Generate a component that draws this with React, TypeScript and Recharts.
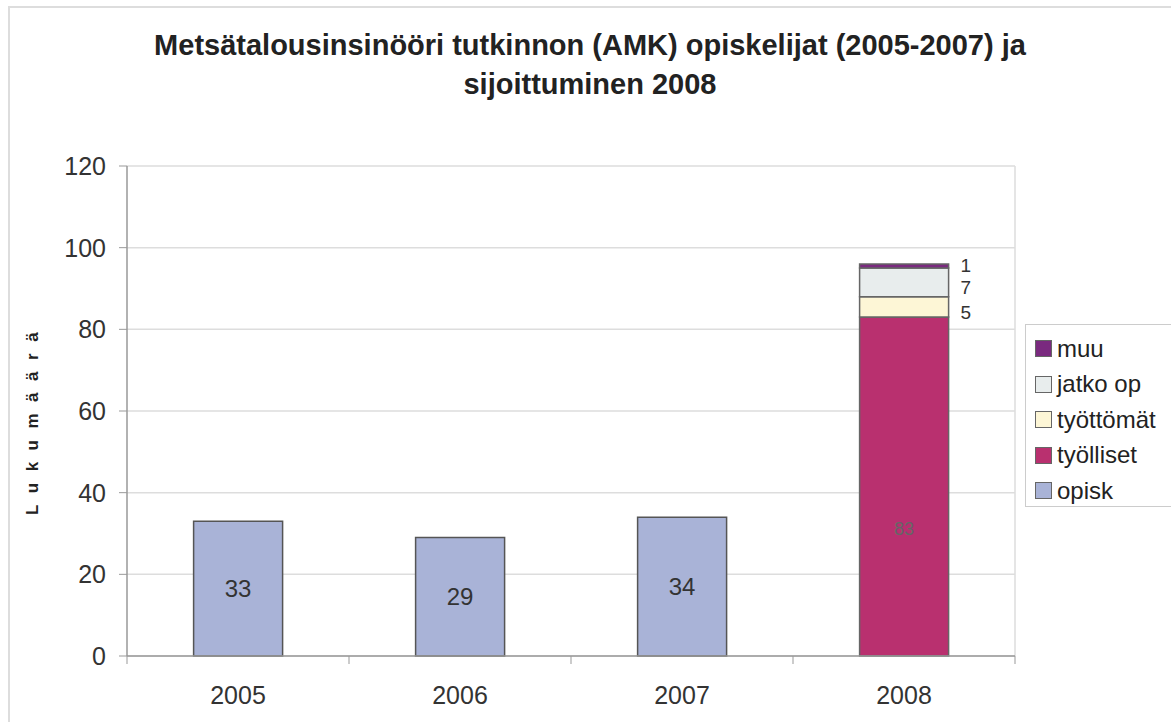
import { Bar, BarChart, CartesianGrid, LabelList, XAxis, YAxis } from "recharts";

const years = ["2005", "2006", "2007", "2008"];
const opisk = [33, 29, 34, null];
const tyolliset = [null, null, null, 83];
const tyottomat = [null, null, null, 5];
const jatkoOp = [null, null, null, 7];
const muu = [null, null, null, 1];
const yTicks = [0, 20, 40, 60, 80, 100, 120];

const legendNames = ["muu", "jatko op", "työttömät", "työlliset", "opisk"];
const legendColors = ["#7a2a7f", "#e8eded", "#fdf6d6", "#b9306f", "#a9b3d7"];

const data = years.map((year, i) => ({
  year,
  opisk: opisk[i],
  tyolliset: tyolliset[i],
  tyottomat: tyottomat[i],
  jatkoOp: jatkoOp[i],
  muu: muu[i],
}));

const FONT = "'Liberation Sans', Arial, sans-serif";
const W = 1171;
const H = 722;
const PLOT_LEFT = 127;
const PLOT_RIGHT = 1015;
const PLOT_TOP = 166;
const PLOT_BOTTOM = 656;
const BAND = (PLOT_RIGHT - PLOT_LEFT) / years.length;

function XTick(props: any) {
  const { x, y, payload, index } = props;
  const left = x - BAND / 2;
  return (
    <g>
      <line x1={left} x2={left} y1={y} y2={y + 8} stroke="#999" />
      {index === years.length - 1 && (
        <line x1={x + BAND / 2} x2={x + BAND / 2} y1={y} y2={y + 8} stroke="#999" />
      )}
      <text x={x} y={y + 48} textAnchor="middle" fontSize={25} fill="#333" fontFamily={FONT}>
        {payload.value}
      </text>
    </g>
  );
}

// small numbers right of the 2008 stack
function sideLabel(dy: number) {
  return (props: any) => {
    const { x, y, width, height, value } = props;
    if (value == null) return null;
    return (
      <text x={x + width + 12} y={y + height / 2 + dy} fontSize={19} fill="#333" fontFamily={FONT} dominantBaseline="middle">
        {value}
      </text>
    );
  };
}

function innerLabel(props: any) {
  const { x, y, width, height, value } = props;
  if (value == null) return null;
  return (
    <text x={x + width / 2} y={y + height * 0.63} textAnchor="middle" dominantBaseline="middle" fontSize={18} fill="#666" fontFamily={FONT}>
      {value}
    </text>
  );
}

export default function App() {
  return (
    <div style={{ position: "absolute", left: 0, top: 0, width: W, height: H, background: "#fff", overflow: "hidden" }}>
      <div style={{ position: "absolute", left: 8, top: 6, width: W, height: H, border: "2px solid #ddd" }} />
      <div
        style={{
          position: "absolute",
          left: 0,
          top: 26,
          width: 1180,
          textAlign: "center",
          fontFamily: FONT,
          fontWeight: "bold",
          fontSize: 29,
          lineHeight: "39px",
          color: "#222",
        }}
      >
        Metsätalousinsinööri tutkinnon (AMK) opiskelijat (2005-2007) ja
        <br />
        sijoittuminen 2008
      </div>
      <div
        style={{
          position: "absolute",
          left: 33,
          top: 418,
          transform: "translate(-50%, -50%) rotate(-90deg)",
          fontFamily: FONT,
          fontWeight: "bold",
          fontSize: 17,
          letterSpacing: 11.5,
          whiteSpace: "nowrap",
          color: "#222",
        }}
      >
        Lukumäärä
      </div>
      <div style={{ position: "absolute", left: 0, top: 0 }}>
        <BarChart
          width={W}
          height={H}
          data={data}
          barCategoryGap="30%"
          margin={{ top: PLOT_TOP, right: W - PLOT_RIGHT, bottom: 0, left: PLOT_LEFT - 70 }}
        >
          <CartesianGrid
            stroke="#ddd"
            strokeWidth={1.5}
            verticalCoordinatesGenerator={({ offset }: any) => [offset.left + offset.width]}
          />
          <XAxis
            dataKey="year"
            height={H - PLOT_BOTTOM}
            axisLine={{ stroke: "#999", strokeWidth: 1.5 }}
            tickLine={false}
            tickSize={0}
            tickMargin={0}
            tick={<XTick />}
            interval={0}
          />
          <YAxis
            width={70}
            domain={[0, 120]}
            ticks={yTicks}
            axisLine={{ stroke: "#999", strokeWidth: 1.5 }}
            tickLine={{ stroke: "#999" }}
            tickSize={8}
            tickMargin={13}
            tick={{ fontSize: 25, fill: "#333", fontFamily: FONT }}
          />
          <Bar dataKey="opisk" name="opisk" stackId="a" fill="#a9b3d7" stroke="#555" strokeWidth={1.5} isAnimationActive={false}>
            <LabelList dataKey="opisk" position="center" fontSize={24} fill="#333" fontFamily={FONT} />
          </Bar>
          <Bar dataKey="tyolliset" name="työlliset" stackId="a" fill="#b9306f" stroke="#666" strokeWidth={1.5} isAnimationActive={false}>
            <LabelList dataKey="tyolliset" content={innerLabel} />
          </Bar>
          <Bar dataKey="tyottomat" name="työttömät" stackId="a" fill="#fdf6d6" stroke="#666" strokeWidth={1.5} isAnimationActive={false}>
            <LabelList dataKey="tyottomat" content={sideLabel(7)} />
          </Bar>
          <Bar dataKey="jatkoOp" name="jatko op" stackId="a" fill="#e8eded" stroke="#666" strokeWidth={1.5} isAnimationActive={false}>
            <LabelList dataKey="jatkoOp" content={sideLabel(7)} />
          </Bar>
          <Bar dataKey="muu" name="muu" stackId="a" fill="#7a2a7f" stroke="#666" strokeWidth={1.5} isAnimationActive={false}>
            <LabelList dataKey="muu" content={sideLabel(1)} />
          </Bar>
        </BarChart>
      </div>
      <div
        style={{
          position: "absolute",
          left: 1025,
          top: 324,
          width: 160,
          height: 183,
          boxSizing: "border-box",
          border: "1.5px solid #ccc",
          background: "#fff",
          padding: "6px 0 0 9px",
          fontFamily: FONT,
          fontSize: 24,
          color: "#222",
        }}
      >
        {legendNames.map((name, i) => (
          <div key={name} style={{ display: "flex", alignItems: "center", height: 35.5 }}>
            <span
              style={{
                width: 17,
                height: 17,
                background: legendColors[i],
                border: "1.5px solid #666",
                marginRight: 5,
                boxSizing: "border-box",
                flexShrink: 0,
              }}
            />
            {name}
          </div>
        ))}
      </div>
    </div>
  );
}
